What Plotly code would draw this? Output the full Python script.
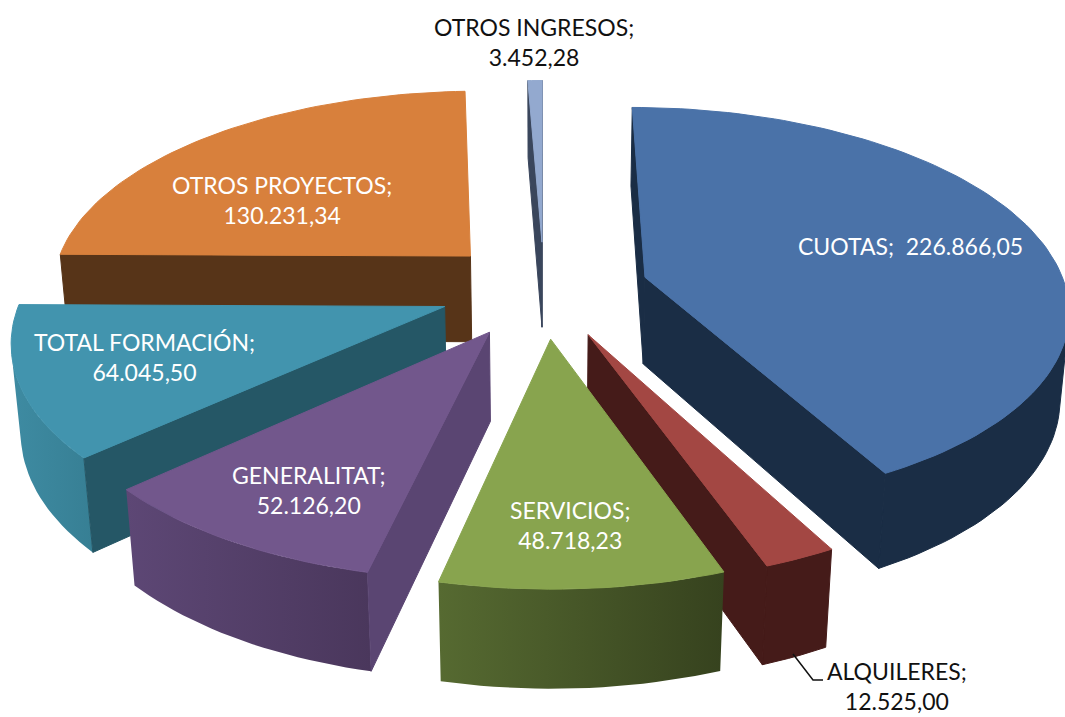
import math
import plotly.graph_objects as go

categories = ["CUOTAS", "ALQUILERES", "SERVICIOS", "GENERALITAT", "TOTAL FORMACIÓN", "OTROS PROYECTOS", "OTROS INGRESOS"]
values = [226866.05, 12525.00, 48718.23, 52126.20, 64045.50, 130231.34, 3452.28]
value_labels = ["226.866,05", "12.525,00", "48.718,23", "52.126,20", "64.045,50", "130.231,34", "3.452,28"]

top_colors = ["#4A72A8", "#A34743", "#88A44E", "#72578C", "#4294AE", "#D8803C", "#93A9CF"]
cut_colors = ["#1A2D45", "#451B19", "#37431F", "#5A4572", "#255766", "#573418", "#3A465C"]
wall_left = ["#1A2D45", "#451B19", "#566A31", "#5D4775", "#3E8BA2", "#573418", "#3A465C"]
wall_right = ["#1A2D45", "#451B19", "#36421E", "#4A375C", "#377F94", "#573418", "#3A465C"]
paint_order = [6, 5, 4, 0, 3, 1, 2]

label_pos = {0: (910, 246), 1: (897, 686), 2: (570, 525), 3: (309, 490),
             4: (144, 357), 5: (282, 200), 6: (534, 42)}
label_color = {0: "white", 1: "#111111", 2: "white", 3: "white", 4: "white", 5: "white", 6: "#111111"}

CX, CY = 544, 289
RADIUS_X, RADIUS_Y, EXPLODE, HEIGHT = 421, 428, 105, 100
ELEV = math.radians(27.5)
DIST = 2620


def project(X, Y, Z):
    v = Y * math.sin(ELEV) - Z * math.cos(ELEV)
    w = Y * math.cos(ELEV) + Z * math.sin(ELEV)
    s = DIST / (DIST - w)
    return CX + X * s, CY + v * s


def area(poly):
    return sum(poly[i][0] * poly[(i + 1) % len(poly)][1] - poly[(i + 1) % len(poly)][0] * poly[i][1]
               for i in range(len(poly))) / 2


fig = go.Figure()


def add_poly(poly, color=None, grad=None):
    xs = [p[0] for p in poly] + [poly[0][0]]
    ys = [p[1] for p in poly] + [poly[0][1]]
    kw = dict(x=xs, y=ys, mode="lines", line=dict(width=1, color=color or grad[0]),
              fill="toself", hoverinfo="skip", showlegend=False)
    if grad and grad[0] != grad[1]:
        kw["fillgradient"] = dict(type="horizontal", colorscale=[[0, grad[0]], [1, grad[1]]])
        kw["line"] = dict(width=0)
    else:
        kw["fillcolor"] = color or grad[0]
    fig.add_trace(go.Scatter(**kw))


total = sum(values)
starts = []
acc = 0.0
for v in values:
    starts.append(acc)
    acc += v
for i in paint_order:
    a0 = 2 * math.pi * starts[i] / total
    a1 = 2 * math.pi * (starts[i] + values[i]) / total
    mid = (a0 + a1) / 2
    ox, oy = EXPLODE * math.sin(mid), -EXPLODE * math.cos(mid)
    n = max(4, int((a1 - a0) / math.radians(1.5)))
    angs = [a0 + (a1 - a0) * k / n for k in range(n + 1)]
    rim = [(ox + RADIUS_X * math.sin(a), oy - RADIUS_Y * math.cos(a)) for a in angs]
    top_rim = [project(x, y, 0) for x, y in rim]
    bot_rim = [project(x, y, -HEIGHT) for x, y in rim]
    apex_t, apex_b = project(ox, oy, 0), project(ox, oy, -HEIGHT)
    run = []
    runs = []
    for k in range(n):
        q = [top_rim[k], top_rim[k + 1], bot_rim[k + 1], bot_rim[k]]
        if area(q) < 0:
            run.append(k)
        elif run:
            runs.append(run)
            run = []
    if run:
        runs.append(run)
    for run in runs:
        idx = run + [run[-1] + 1]
        add_poly([top_rim[k] for k in idx] + [bot_rim[k] for k in reversed(idx)],
                 grad=(wall_left[i], wall_right[i]))
    for A_t, B_t, B_b, A_b in [(apex_t, top_rim[0], bot_rim[0], apex_b),
                               (top_rim[-1], apex_t, apex_b, bot_rim[-1])]:
        q = [A_t, B_t, B_b, A_b]
        if area(q) < 0:
            add_poly(q, color=cut_colors[i])
    add_poly([apex_t] + top_rim, color=top_colors[i])

for i, cat in enumerate(categories):
    sep = ";\u00a0\u00a0" if i == 0 else ";<br>"
    x, y = label_pos[i]
    fig.add_annotation(x=x, y=y, xref="x", yref="y", text=cat + sep + value_labels[i], showarrow=False,
                       font=dict(family="Lato", size=23, color=label_color[i]), align="center")

fig.add_shape(type="path", path="M 793 654 L 813 680 L 823 680", line=dict(color="#111111", width=1.5))

fig.update_layout(width=1065, height=717, margin=dict(l=0, r=0, t=0, b=0), paper_bgcolor="white",
                  plot_bgcolor="white", showlegend=False,
                  xaxis=dict(range=[0, 1065], visible=False, fixedrange=True),
                  yaxis=dict(range=[717, 0], visible=False, fixedrange=True))
fig.write_html("out.html", config={"displayModeBar": False},
               post_script="document.body.style.margin='0';document.documentElement.style.overflow='hidden';")
